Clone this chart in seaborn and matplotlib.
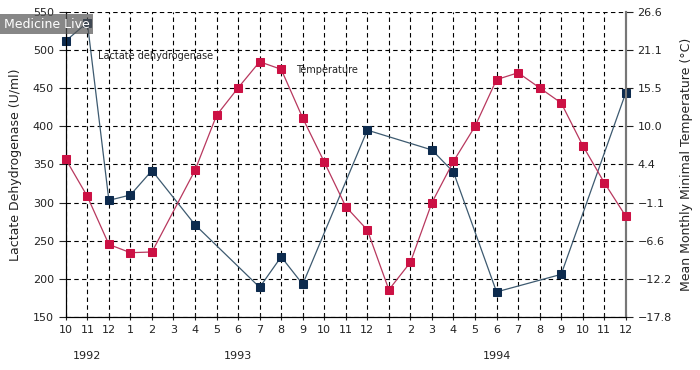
import numpy as np
import pandas as pd
import matplotlib
matplotlib.use('Agg')
import matplotlib.pyplot as plt
import seaborn as sns

# month axis, Oct 1992 - Dec 1994
months = pd.period_range('1992-10', '1994-12', freq='M')
month_labels = [str(m.month) for m in months]
years = ['1992', '1993', '1994']
year_label_months = ['1992-11', '1993-06', '1994-06']

# lactate dehydrogenase (U/ml)
ldh_months = ['1992-10', '1992-11', '1992-12', '1993-01', '1993-02', '1993-04', '1993-07', '1993-08',
              '1993-09', '1993-12', '1994-03', '1994-04', '1994-06', '1994-09', '1994-12']
ldh_values = [512, 536, 303, 310, 342, 271, 189, 229, 193, 395, 369, 340, 183, 206, 444]

# mean monthly minimal temperature (deg C)
temp_months = ['1992-10', '1992-11', '1992-12', '1993-01', '1993-02', '1993-04', '1993-05', '1993-06',
               '1993-07', '1993-08', '1993-09', '1993-10', '1993-11', '1993-12', '1994-01', '1994-02',
               '1994-03', '1994-04', '1994-05', '1994-06', '1994-07', '1994-08', '1994-09', '1994-10',
               '1994-11', '1994-12']
temp_values = [5.2, -0.2, -7.2, -8.4, -8.3, 3.6, 11.6, 15.6, 19.4, 18.3, 11.2, 4.8, -1.7, -5.1, -13.8,
               -9.8, -1.1, 4.9, 10.0, 16.8, 17.8, 15.6, 13.4, 7.2, 1.8, -3.1]

left_ticks = [150, 200, 250, 300, 350, 400, 450, 500, 550]
right_ticks_f = [0, 10, 20, 30, 40, 50, 60, 70, 80]
right_tick_labels = ['\u221217.8', '\u221212.2', '\u22126.6', '\u22121.1', '4.4', '10.0', '15.5', '21.1', '26.6']


def pos(keys):
    return [months.get_loc(pd.Period(k, freq='M')) for k in keys]


ldh = pd.DataFrame({'x': pos(ldh_months), 'y': ldh_values})
temp = pd.DataFrame({'x': pos(temp_months), 'y': temp_values})

sns.set_style('ticks')
plt.rcParams['font.family'] = ['DejaVu Sans']

fig = plt.figure(figsize=(7, 3.7), dpi=100)
ax = fig.add_axes([0.094, 0.143, 0.8, 0.825])
ax2 = ax.twinx()

sns.lineplot(data=ldh, x='x', y='y', ax=ax, color='#3d5a70', linewidth=0.9, marker='s',
             markersize=6, markerfacecolor='#0d2b4e', markeredgecolor='#0d2b4e', zorder=3,
             clip_on=False)
sns.lineplot(data=temp, x='x', y='y', ax=ax2, color='#b8385e', linewidth=0.9, marker='s',
             markersize=6, markerfacecolor='#cc1144', markeredgecolor='#cc1144', zorder=3,
             clip_on=False)

# axes
ax.set_xlim(0, len(months) - 1)
ax.set_ylim(150, 550)
ax.set_yticks(left_ticks)
ax.set_xticks(range(len(months)))
ax.set_xticklabels(month_labels)
ax.set_xlabel('')
ax.set_ylabel('Lactate Dehydrogenase (U/ml)', fontsize=9, color='#222222', labelpad=8)
ax.grid(True, color='black', linestyle=(0, (4, 3)), linewidth=0.8)
ax.tick_params(axis='both', labelsize=8, colors='#222222', length=5, width=0.8)
ax.tick_params(axis='x', direction='inout', pad=3)

ax2.set_ylim((0 - 32) * 5 / 9, (80 - 32) * 5 / 9)
ax2.set_yticks([(f - 32) * 5 / 9 for f in right_ticks_f])
ax2.set_yticklabels(right_tick_labels)
ax2.set_xlabel('')
ax2.set_ylabel('Mean Monthly Minimal Temperature (\u00b0C)', fontsize=9, color='#222222', labelpad=6)
ax2.tick_params(axis='y', labelsize=8, colors='#222222', length=5, width=0.8)

for a in (ax, ax2):
    a.spines['top'].set_visible(False)
    a.spines['left'].set_color('black')
    a.spines['bottom'].set_color('black')
    a.spines['right'].set_color('#777777')
    a.spines['right'].set_linewidth(1.5)
ax.set_zorder(ax2.get_zorder() - 1)
ax.patch.set_visible(True)
ax2.patch.set_visible(False)

# year labels
for yr, m in zip(years, year_label_months):
    ax.text(pos([m])[0], -0.11, yr, transform=ax.get_xaxis_transform(), ha='center', va='top',
            fontsize=8, color='#222222')

# series labels
ax.text(1.5, 492, 'Lactate dehydrogenase', fontsize=7, color='#222222', va='center')
ax.text(10.7, 474, 'Temperature', fontsize=7, color='#222222', va='center')

# watermark
fig.text(0.005, 0.935, 'Medicine Live', fontsize=9, color='white', va='center', ha='left',
         bbox=dict(boxstyle='square,pad=0.3', facecolor='#555555', edgecolor='none', alpha=0.7))

plt.savefig('out.png', dpi=100)
